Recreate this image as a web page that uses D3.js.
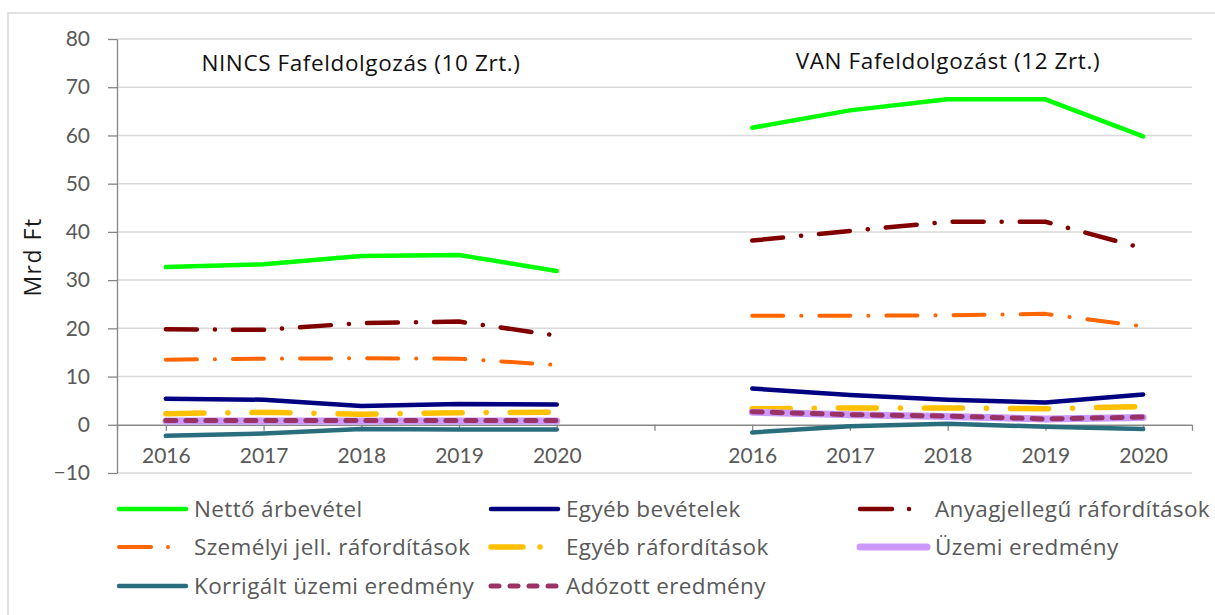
<!DOCTYPE html>
<html>
<head>
<meta charset="utf-8">
<script src="https://cdn.jsdelivr.net/npm/d3@7"></script>
<style>
  body { margin: 0; background: #fff; }
  text { font-family: "Open Sans", sans-serif; }
</style>
</head>
<body>
<div id="chart"></div>
<script>
// categories: two groups of years with an empty slot between them
var categories = ["2016a", "2017a", "2018a", "2019a", "2020a", "gap", "2016b", "2017b", "2018b", "2019b", "2020b"];
var categoryLabels = ["2016", "2017", "2018", "2019", "2020", "", "2016", "2017", "2018", "2019", "2020"];
var yTicks = [-10, 0, 10, 20, 30, 40, 50, 60, 70, 80];
var groupTitles = ["NINCS Fafeldolgozás (10 Zrt.)", "VAN Fafeldolgozást (12 Zrt.)"];

// values per series: [group NINCS], [group VAN]
var nettoArbevetel = [[32.7, 33.3, 35.0, 35.2, 31.9], [61.6, 65.2, 67.5, 67.5, 59.8]];
var egyebBevetelek = [[5.4, 5.2, 3.9, 4.3, 4.2], [7.5, 6.2, 5.2, 4.6, 6.3]];
var anyagjellegu = [[19.8, 19.7, 21.1, 21.4, 18.5], [38.2, 40.2, 42.1, 42.1, 36.6]];
var szemelyi = [[13.5, 13.7, 13.8, 13.7, 12.4], [22.6, 22.6, 22.7, 23.0, 20.4]];
var egyebRafordit = [[2.3, 2.6, 2.2, 2.5, 2.6], [3.3, 3.5, 3.5, 3.3, 3.8]];
var uzemiEredmeny = [[0.8, 0.8, 0.8, 0.8, 0.8], [2.6, 2.1, 1.7, 1.2, 1.5]];
var korrigalt = [[-2.3, -1.8, -0.9, -1.0, -1.0], [-1.6, -0.3, 0.2, -0.4, -0.9]];
var adozott = [[0.9, 0.9, 0.9, 0.9, 0.9], [2.7, 2.1, 1.8, 1.2, 1.6]];

var series = [
    {name: "Nettő árbevétel", values: nettoArbevetel, color: "#00ff00", width: 4.5, dash: null, legend: "solid"},
    {name: "Egyéb bevételek", values: egyebBevetelek, color: "#000080", width: 4.5, dash: null, legend: "solid"},
    {name: "Anyagjellegű ráfordítások", values: anyagjellegu, color: "#800000", width: 4.5, dash: "31,18,0.1,18", legend: "dashdot"},
    {name: "Személyi jell. ráfordítások", values: szemelyi, color: "#ff6600", width: 4, dash: "31,18,0.1,18", legend: "dashdot"},
    {name: "Egyéb ráfordítások", values: egyebRafordit, color: "#ffc000", width: 5.5, dash: "38,24,0.1,24", legend: "dashdot"},
    {name: "Üzemi eredmény", values: uzemiEredmeny, color: "#cc99ff", width: 7, dash: null, legend: "solid"},
    {name: "Korrigált üzemi eredmény", values: korrigalt, color: "#2a6e7e", width: 4.5, dash: null, legend: "solid"},
    {name: "Adózott eredmény", values: adozott, color: "#993366", width: 5, dash: "10,10", legend: "dash"}
];

var width = 1215, height = 615;
var plotLeft = 117, plotRight = 1192, plotTop = 39, plotBottom = 473;

var svg = d3.select("#chart").append("svg")
    .attr("width", width)
    .attr("height", height);

// outer chart border (only top and left are in view)
svg.append("path")
    .attr("d", "M8,615V13H1215")
    .attr("fill", "none")
    .attr("stroke", "#d9d9d9")
    .attr("stroke-width", 1.5);

var x = d3.scalePoint()
    .domain(categories)
    .range([plotLeft, plotRight])
    .padding(0.5);

var y = d3.scaleLinear()
    .domain([-10, 80])
    .range([plotBottom, plotTop]);

// gridlines
svg.append("g")
    .selectAll("line")
    .data(yTicks)
    .join("line")
    .attr("x1", plotLeft)
    .attr("x2", plotRight)
    .attr("y1", d => y(d))
    .attr("y2", d => y(d))
    .attr("stroke", "#d9d9d9")
    .attr("stroke-width", 1.5);

// y axis
var yAxis = svg.append("g")
    .attr("transform", "translate(" + plotLeft + ",0)")
    .call(d3.axisLeft(y).tickValues(yTicks).tickSize(9).tickSizeOuter(0).tickPadding(18));
yAxis.select(".domain").attr("stroke", "#868686").attr("stroke-width", 1.3);
yAxis.selectAll(".tick line").attr("stroke", "#868686").attr("stroke-width", 1.3);
yAxis.selectAll("text")
    .attr("fill", "#595959")
    .style("font-size", "21px")
    .style("font-family", "Lato, sans-serif");

// x axis at zero
var xAxis = svg.append("g")
    .attr("transform", "translate(0," + y(0) + ")")
    .call(d3.axisBottom(x).tickSize(6).tickSizeOuter(6)
        .tickFormat((d, i) => categoryLabels[i]));
xAxis.select(".domain").attr("stroke", "#868686").attr("stroke-width", 1.3);
xAxis.selectAll(".tick line").attr("stroke", "#868686").attr("stroke-width", 1.3);
xAxis.selectAll("text")
    .attr("y", 38)
    .attr("dy", 0)
    .attr("fill", "#595959")
    .style("font-size", "21px")
    .style("font-family", "Lato, sans-serif");

// y axis title
svg.append("text")
    .attr("transform", "translate(41,257) rotate(-90)")
    .attr("text-anchor", "middle")
    .style("font-size", "23px")
    .style("letter-spacing", "1.5px")
    .attr("fill", "#1a1a1a")
    .text("Mrd Ft");

// group titles
var titleX = [361, 948], titleY = [71, 69];
svg.append("g")
    .selectAll("text")
    .data(groupTitles)
    .join("text")
    .attr("x", (d, i) => titleX[i])
    .attr("y", (d, i) => titleY[i])
    .attr("text-anchor", "middle")
    .attr("fill", "#111")
    .style("font-size", "22.5px")
    .style("letter-spacing", "0.6px")
    .text(d => d);

// series lines, one path per group so the gap stays empty
var line = d3.line()
    .x(d => x(d.cat))
    .y(d => y(d.v));

series.forEach(function (s) {
    var g = svg.append("g");
    s.values.forEach(function (vals, gi) {
        var pts = vals.map((v, i) => ({cat: categories[gi * 6 + i], v: v}));
        g.append("path")
            .datum(pts)
            .attr("d", line)
            .attr("fill", "none")
            .attr("stroke", s.color)
            .attr("stroke-width", s.width)
            .attr("stroke-linecap", "round")
            .attr("stroke-linejoin", "round")
            .attr("stroke-dasharray", s.dash);
    });
});

// legend
var legendCols = [117, 489, 858], legendRows = [509, 547, 586];
var legend = svg.append("g")
    .selectAll("g")
    .data(series)
    .join("g")
    .attr("transform", (d, i) => "translate(" + legendCols[i % 3] + "," + legendRows[Math.floor(i / 3)] + ")");

legend.each(function (d) {
    var g = d3.select(this);
    if (d.legend == "dashdot") {
        g.append("line")
            .attr("x1", 2).attr("x2", 34)
            .attr("stroke", d.color)
            .attr("stroke-width", d.width)
            .attr("stroke-linecap", "round");
        g.append("circle")
            .attr("cx", 51)
            .attr("r", d.width / 2)
            .attr("fill", d.color);
    } else {
        g.append("line")
            .attr("x1", 2).attr("x2", 69)
            .attr("stroke", d.color)
            .attr("stroke-width", d.width)
            .attr("stroke-linecap", "round")
            .attr("stroke-dasharray", d.legend == "dash" ? "8,11" : null);
    }
});

legend.append("text")
    .attr("x", 77)
    .attr("y", 8)
    .attr("fill", "#595959")
    .style("font-size", "22.5px")
    .style("letter-spacing", "0.35px")
    .text(d => d.name);
</script>
</body>
</html>
